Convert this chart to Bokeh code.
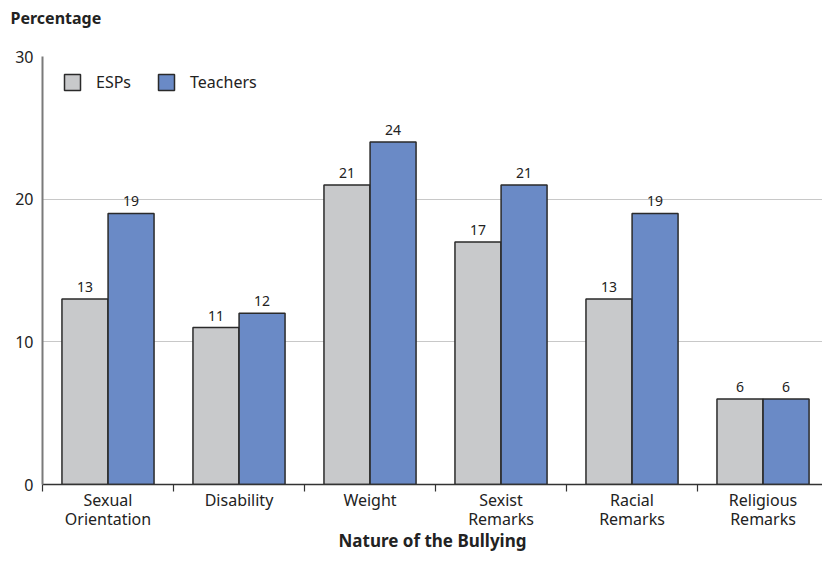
from bokeh.plotting import figure
from bokeh.models import (ColumnDataSource, Range1d, FixedTicker, LabelSet, Legend, LegendItem, Title)
from bokeh.core.properties import value
from bokeh.transform import dodge
from bokeh.embed import file_html
from bokeh.resources import INLINE

categories = ["Sexual\nOrientation", "Disability", "Weight", "Sexist\nRemarks", "Racial\nRemarks", "Religious\nRemarks"]
esps = [13, 11, 21, 17, 13, 6]
teachers = [19, 12, 24, 21, 19, 6]
y_ticks = [0, 10, 20, 30]

FONT = "Noto Sans"
idx = list(range(len(categories)))
src = ColumnDataSource(dict(x=idx, esps=esps, teachers=teachers,
                            esps_t=[str(v) for v in esps], teachers_t=[str(v) for v in teachers]))

p = figure(width=822, height=567, output_backend="svg", toolbar_location=None,
           x_range=Range1d(-0.5, 5.454), y_range=Range1d(0, 30), title_location=None,
           min_border_left=42, min_border_top=52, min_border_bottom=83, min_border_right=0)
p.outline_line_color = None
p.background_fill_color = "white"

# spacer panel next to the frame, then the heading above it
p.add_layout(Title(text=" ", text_font=FONT, text_font_size="16px", standoff=0), "above")
p.add_layout(Title(text="Percentage", align="left", offset=-32, standoff=8,
                   text_font=FONT, text_font_style="bold", text_font_size="16px",
                   text_color="#222222"), "above")

off = 0.176
w = 0.351
r1 = p.vbar(x=dodge("x", -off, range=p.x_range), top="esps", width=w, source=src,
            fill_color="#c8c9cb", line_color="#2a2a2a", line_width=1.5)
r2 = p.vbar(x=dodge("x", off, range=p.x_range), top="teachers", width=w, source=src,
            fill_color="#6a8ac6", line_color="#2a2a2a", line_width=1.5)

for col, d in (("esps", -off), ("teachers", off)):
    p.add_layout(LabelSet(x=dodge("x", d, range=p.x_range), y=col, text=col + "_t", source=src,
                          text_align="center", text_baseline="bottom", y_offset=7,
                          text_font=value(FONT), text_font_size="14px", text_color="#222222"))

# axes
p.xaxis.ticker = FixedTicker(ticks=idx, minor_ticks=[i - 0.5 for i in idx] + [5.5])
p.xaxis.major_label_overrides = {i: c for i, c in zip(idx, categories)}
p.xaxis.major_tick_line_color = None
p.xaxis.major_tick_out = 0
p.xaxis.major_tick_in = 0
p.xaxis.minor_tick_in = 0
p.xaxis.minor_tick_out = 7
p.xaxis.minor_tick_line_color = "#333333"
p.xaxis.minor_tick_line_width = 1.2
p.xaxis.axis_line_color = "#333333"
p.xaxis.axis_line_width = 1.5
p.xaxis.major_label_text_font = FONT
p.xaxis.major_label_text_font_size = "16px"
p.xaxis.major_label_text_color = "#222222"
p.xaxis.major_label_text_line_height = 0.9
p.xaxis.major_label_standoff = -3
p.xaxis.axis_label = "Nature of the Bullying"
p.xaxis.axis_label_text_font = FONT
p.xaxis.axis_label_text_font_style = "bold"
p.xaxis.axis_label_text_font_size = "17px"
p.xaxis.axis_label_text_color = "#222222"
p.xaxis.axis_label_standoff = -4

p.yaxis.ticker = FixedTicker(ticks=y_ticks)
p.yaxis.major_tick_line_color = None
p.yaxis.major_tick_out = 0
p.yaxis.major_tick_in = 0
p.yaxis.minor_tick_line_color = None
p.yaxis.axis_line_color = "#7a7a7a"
p.yaxis.axis_line_width = 2
p.yaxis.major_label_text_font = FONT
p.yaxis.major_label_text_font_size = "16px"
p.yaxis.major_label_text_color = "#222222"
p.yaxis.major_label_standoff = 9

p.xgrid.grid_line_color = None
p.ygrid.grid_line_color = "#c8c8c8"
p.ygrid.grid_line_width = 1

legend = Legend(items=[LegendItem(label="ESPs", renderers=[r1]), LegendItem(label="Teachers", renderers=[r2])],
                orientation="horizontal", location=(20, 391), border_line_color=None,
                background_fill_alpha=0, padding=0, margin=0, spacing=25,
                glyph_width=20, glyph_height=20, label_standoff=14,
                label_text_font=FONT, label_text_font_size="16px", label_text_color="#222222")
p.add_layout(legend, "center")

open("out.html", "w").write(file_html(p, INLINE))
